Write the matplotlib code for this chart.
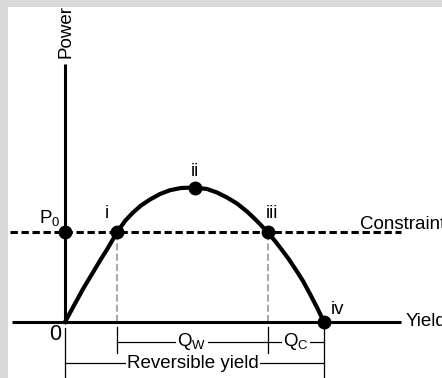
import matplotlib.pyplot as plt

plt.rcParams['font.family'] = ['Liberation Sans', 'DejaVu Sans']
plt.rcParams['mathtext.fontset'] = 'custom'
plt.rcParams['mathtext.rm'] = 'Liberation Sans'

# yield / power curve (arbitrary units)
yield_curve = [0, 6, 12, 18, 24, 30, 36, 42, 47, 52, 60, 68, 76, 85, 95, 105, 116, 129.5,
               142, 152, 162, 172, 182, 192, 202.5, 210, 217, 224, 231, 238, 245, 252, 259]
power_curve = [0, 11, 22, 33, 43, 53, 63, 72.5, 81, 89.7, 101, 109.5, 116.5, 122.5, 128, 131.8, 134, 134.5,
               133, 129.5, 124.5, 118.5, 110.5, 101, 90, 81, 72, 62.5, 52, 41, 28, 14.5, 0]

# labelled points on the curve
point_labels = ['i', 'ii', 'iii', 'iv']
point_yield = [52, 129.5, 202.5, 259]
point_power = [90, 134, 90, 0]

p0 = 90  # power constraint

fs = 13.5
fig = plt.figure(figsize=(4.42, 3.78), dpi=100, facecolor='#d9d9d9')
ax = fig.add_axes([8/442, 0, 434/442, 371/378])
ax.set_xlim(-57, 377)
ax.set_ylim(-56, 315)
ax.set_facecolor('white')
for s in ax.spines.values():
    s.set_visible(False)
ax.set_xticks([])
ax.set_yticks([])

# axes
ax.plot([-53, 336], [0, 0], color='k', lw=2.2, solid_capstyle='butt')
ax.plot([0, 0], [0, 258], color='k', lw=2.2, solid_capstyle='butt')
ax.text(0.5, 290, 'Power', rotation=90, ha='center', va='center', fontsize=fs)
ax.text(341, 0, 'Yield', ha='left', va='center', fontsize=fs)
ax.text(-10, -13, '0', ha='center', va='center', fontsize=15.5)

# constraint
ax.plot([-55, 336], [p0, p0], color='k', lw=2.2, ls=(0, (2.4, 1.2)))
ax.text(295, p0 + 3, 'Constraint', ha='left', va='baseline', fontsize=fs)

# gray guides
for xv in [point_yield[0], point_yield[2]]:
    ax.plot([xv, xv], [0, p0], color='#aaaaaa', lw=1.5, ls=(0, (3.4, 1.5)), zorder=1)

# curve
ax.plot(yield_curve, power_curve, color='k', lw=3, solid_joinstyle='round', zorder=3)
ax.plot(point_yield, point_power, 'o', ms=9, color='k', zorder=4)
ax.plot([0], [p0], 'o', ms=9, color='k', zorder=4)

lab_off = [(-10, 19), (0, 16), (4, 19), (14, 12)]
for lab, xv, yv, (dx, dy) in zip(point_labels, point_yield, point_power, lab_off):
    ax.text(xv + dx, yv + dy, lab, ha='center', va='center', fontsize=fs)
ax.text(-15, 104, r'$\mathregular{P_0}$', ha='center', va='center', fontsize=fs)

# dimension lines
dim = dict(color='k', lw=0.9)
ax.plot([0, 0], [-6, -56], **dim)
ax.plot([point_yield[3], point_yield[3]], [-5, -56], **dim)
ax.plot([point_yield[0], point_yield[0]], [-5, -31], **dim)
ax.plot([point_yield[2], point_yield[2]], [-5, -31], **dim)
ax.plot([point_yield[0], point_yield[2]], [-19.7, -19.7], **dim)
ax.plot([point_yield[2], point_yield[3]], [-19.7, -19.7], **dim)
ax.plot([0, point_yield[3]], [-41.3, -41.3], **dim)
box = dict(facecolor='white', edgecolor='none', pad=1)
ax.text(127, -19.7, r'$\mathregular{Q_W}$', ha='center', va='center', fontsize=fs, bbox=box)
ax.text(231, -19.7, r'$\mathregular{Q_C}$', ha='center', va='center', fontsize=fs, bbox=box)
ax.text(128, -41.3, 'Reversible yield', ha='center', va='center', fontsize=fs, bbox=box)

fig.savefig('out.png', dpi=100, facecolor=fig.get_facecolor())
